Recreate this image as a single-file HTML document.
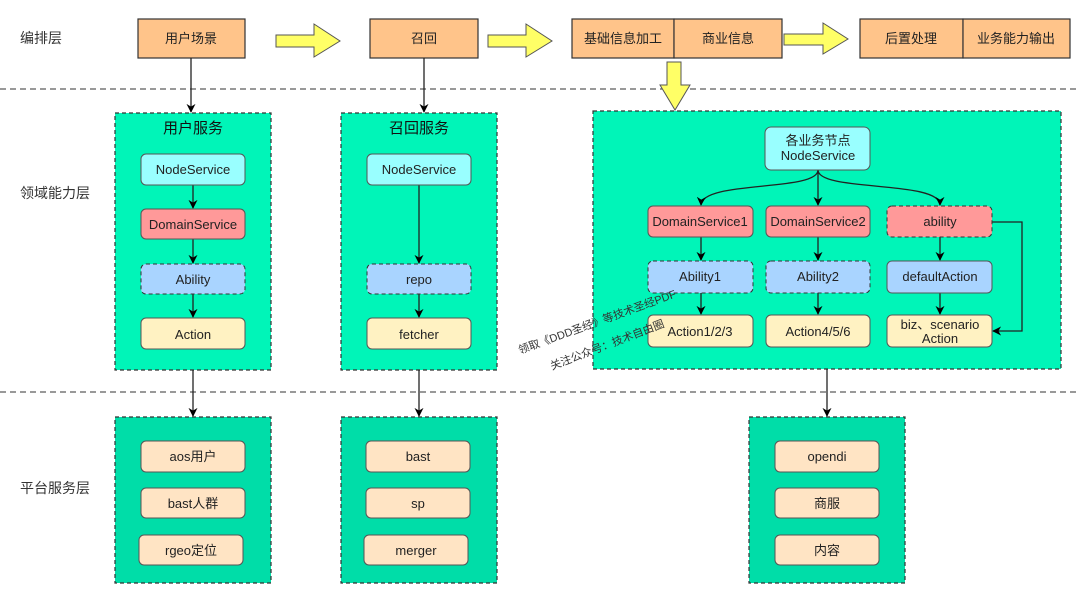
<!DOCTYPE html>
<html><head><meta charset="utf-8"><style>
html,body{margin:0;padding:0;background:#fff;}
svg{display:block;font-family:"Liberation Sans","Noto Sans CJK SC",sans-serif;}
</style></head><body>
<svg width="1080" height="596" viewBox="0 0 1080 596" xmlns="http://www.w3.org/2000/svg">
<defs>
<marker id="a" viewBox="0 0 10 10" refX="9" refY="5" markerWidth="9" markerHeight="9" markerUnits="userSpaceOnUse" orient="auto"><path d="M0,0 L10,5 L0,10 L3,5 z" fill="#000"/></marker>
</defs>
<g font-size="14" fill="#333">
<text x="20" y="43">编排层</text>
<text x="20" y="198">领域能力层</text>
<text x="20" y="493">平台服务层</text>
</g>
<line x1="0" y1="89" x2="1080" y2="89" stroke="#333" stroke-dasharray="6,4"/>
<line x1="0" y1="392" x2="1080" y2="392" stroke="#333" stroke-dasharray="6,4"/>
<g fill="#FFC48A" stroke="#333" stroke-width="1.2">
<rect x="138" y="19" width="107" height="39"/>
<rect x="370" y="19" width="108" height="39"/>
<rect x="572" y="19" width="102" height="39"/><rect x="674" y="19" width="108" height="39"/>
<rect x="860" y="19" width="103" height="39"/><rect x="963" y="19" width="107" height="39"/>
</g>
<g font-size="13" fill="#222" text-anchor="middle">
<text x="191" y="43">用户场景</text><text x="424" y="43">召回</text>
<text x="623" y="43">基础信息加工</text><text x="728" y="43">商业信息</text>
<text x="911" y="43">后置处理</text><text x="1016" y="43">业务能力输出</text>
</g>
<g fill="#FFFF66" stroke="#555" stroke-width="1">
<path d="M276,35 H314 V24 L340,41 L314,57 V47 H276 Z"/>
<path d="M488,35 H526 V24 L552,41 L526,57 V47 H488 Z"/>
<path d="M784,34 H823 V23 L848,39 L823,54 V45 H784 Z"/>
<path d="M667,62 H681 V85 H690 L675,110 L660,85 H667 Z"/>
</g>
<g stroke="#333" stroke-dasharray="4,3" stroke-width="1.2">
<rect x="115" y="113" width="156" height="257" fill="#00F5B8"/>
<rect x="341" y="113" width="156" height="257" fill="#00F5B8"/>
<rect x="593" y="111" width="468" height="258" fill="#00F5B8"/>
<rect x="115" y="417" width="156" height="166" fill="#00DDA8"/>
<rect x="341" y="417" width="156" height="166" fill="#00DDA8"/>
<rect x="749" y="417" width="156" height="166" fill="#00DDA8"/>
</g>
<g font-size="15" fill="#111" text-anchor="middle">
<text x="193" y="133">用户服务</text><text x="419" y="133">召回服务</text>
</g>
<g stroke="#222" stroke-width="1.3" fill="none" marker-end="url(#a)">
<line x1="191" y1="58" x2="191" y2="112"/>
<line x1="424" y1="58" x2="424" y2="112"/>
<line x1="193" y1="185" x2="193" y2="208"/>
<line x1="193" y1="239" x2="193" y2="263"/>
<line x1="193" y1="294" x2="193" y2="317"/>
<line x1="419" y1="185" x2="419" y2="263"/>
<line x1="419" y1="294" x2="419" y2="317"/>
<line x1="193" y1="370" x2="193" y2="416"/>
<line x1="419" y1="370" x2="419" y2="416"/>
<line x1="827" y1="369" x2="827" y2="416"/>
<line x1="818" y1="170" x2="818" y2="205"/>
<path d="M818,170 C818,192 702,180 701,205"/>
<path d="M818,170 C818,192 940,180 940,205"/>
<line x1="701" y1="237" x2="701" y2="260"/>
<line x1="818" y1="237" x2="818" y2="260"/>
<line x1="940" y1="237" x2="940" y2="260"/>
<line x1="701" y1="293" x2="701" y2="314"/>
<line x1="818" y1="293" x2="818" y2="314"/>
<line x1="940" y1="293" x2="940" y2="314"/>
<path d="M992,222 H1022 V331 H993"/>
</g>
<g stroke="#555" stroke-width="1">
<rect x="141" y="154" width="104" height="31" rx="5" fill="#99FFFF"/>
<rect x="141" y="209" width="104" height="30" rx="5" fill="#FF9999"/>
<rect x="141" y="264" width="104" height="30" rx="5" fill="#A9D4FF" stroke-dasharray="4,3" stroke="#333"/>
<rect x="141" y="318" width="104" height="31" rx="5" fill="#FFF2C2"/>
<rect x="367" y="154" width="104" height="31" rx="5" fill="#99FFFF"/>
<rect x="367" y="264" width="104" height="30" rx="5" fill="#A9D4FF" stroke-dasharray="4,3" stroke="#333"/>
<rect x="367" y="318" width="104" height="31" rx="5" fill="#FFF2C2"/>
<rect x="765" y="127" width="105" height="43" rx="6" fill="#99FFFF"/>
<rect x="648" y="206" width="105" height="31" rx="5" fill="#FF9999"/>
<rect x="766" y="206" width="104" height="31" rx="5" fill="#FF9999"/>
<rect x="887" y="206" width="105" height="31" rx="5" fill="#FF9999" stroke-dasharray="4,3" stroke="#333"/>
<rect x="648" y="261" width="105" height="32" rx="5" fill="#A9D4FF" stroke-dasharray="4,3" stroke="#333"/>
<rect x="766" y="261" width="104" height="32" rx="5" fill="#A9D4FF" stroke-dasharray="4,3" stroke="#333"/>
<rect x="887" y="261" width="105" height="32" rx="5" fill="#A9D4FF"/>
<rect x="648" y="315" width="105" height="32" rx="5" fill="#FFF2C2"/>
<rect x="766" y="315" width="104" height="32" rx="5" fill="#FFF2C2"/>
<rect x="887" y="315" width="105" height="32" rx="5" fill="#FFF2C2"/>
<g fill="#FFE4C4">
<rect x="141" y="441" width="104" height="31" rx="5"/><rect x="141" y="488" width="104" height="30" rx="5"/><rect x="139" y="535" width="104" height="30" rx="5"/>
<rect x="366" y="441" width="104" height="31" rx="5"/><rect x="366" y="488" width="104" height="30" rx="5"/><rect x="364" y="535" width="104" height="30" rx="5"/>
<rect x="775" y="441" width="104" height="31" rx="5"/><rect x="775" y="488" width="104" height="30" rx="5"/><rect x="775" y="535" width="104" height="30" rx="5"/>
</g>
</g>
<g font-size="13" fill="#222" text-anchor="middle">
<text x="193" y="174">NodeService</text><text x="193" y="229">DomainService</text>
<text x="193" y="284">Ability</text><text x="193" y="339">Action</text>
<text x="419" y="174">NodeService</text><text x="419" y="284">repo</text><text x="419" y="339">fetcher</text>
<text x="818" y="145">各业务节点</text><text x="818" y="160">NodeService</text>
<text x="700" y="226">DomainService1</text><text x="818" y="226">DomainService2</text>
<text x="940" y="226">ability</text>
<text x="700" y="281">Ability1</text><text x="818" y="281">Ability2</text><text x="940" y="281">defaultAction</text>
<text x="700" y="336">Action1/2/3</text><text x="818" y="336">Action4/5/6</text>
<text x="940" y="329">biz、scenario</text><text x="940" y="343">Action</text>
<text x="193" y="461">aos用户</text><text x="193" y="508">bast人群</text><text x="191" y="555">rgeo定位</text>
<text x="418" y="461">bast</text><text x="418" y="508">sp</text><text x="416" y="555">merger</text>
<text x="827" y="461">opendi</text><text x="827" y="508">商服</text><text x="827" y="555">内容</text>
</g>
<g font-size="11" fill="#333">
<text x="520" y="354" transform="rotate(-20 520 354)">领取《DDD圣经》等技术圣经PDF</text>
<text x="552" y="370" transform="rotate(-21 552 370)">关注公众号：技术自由圈</text>
</g>
</svg>
</body></html>
